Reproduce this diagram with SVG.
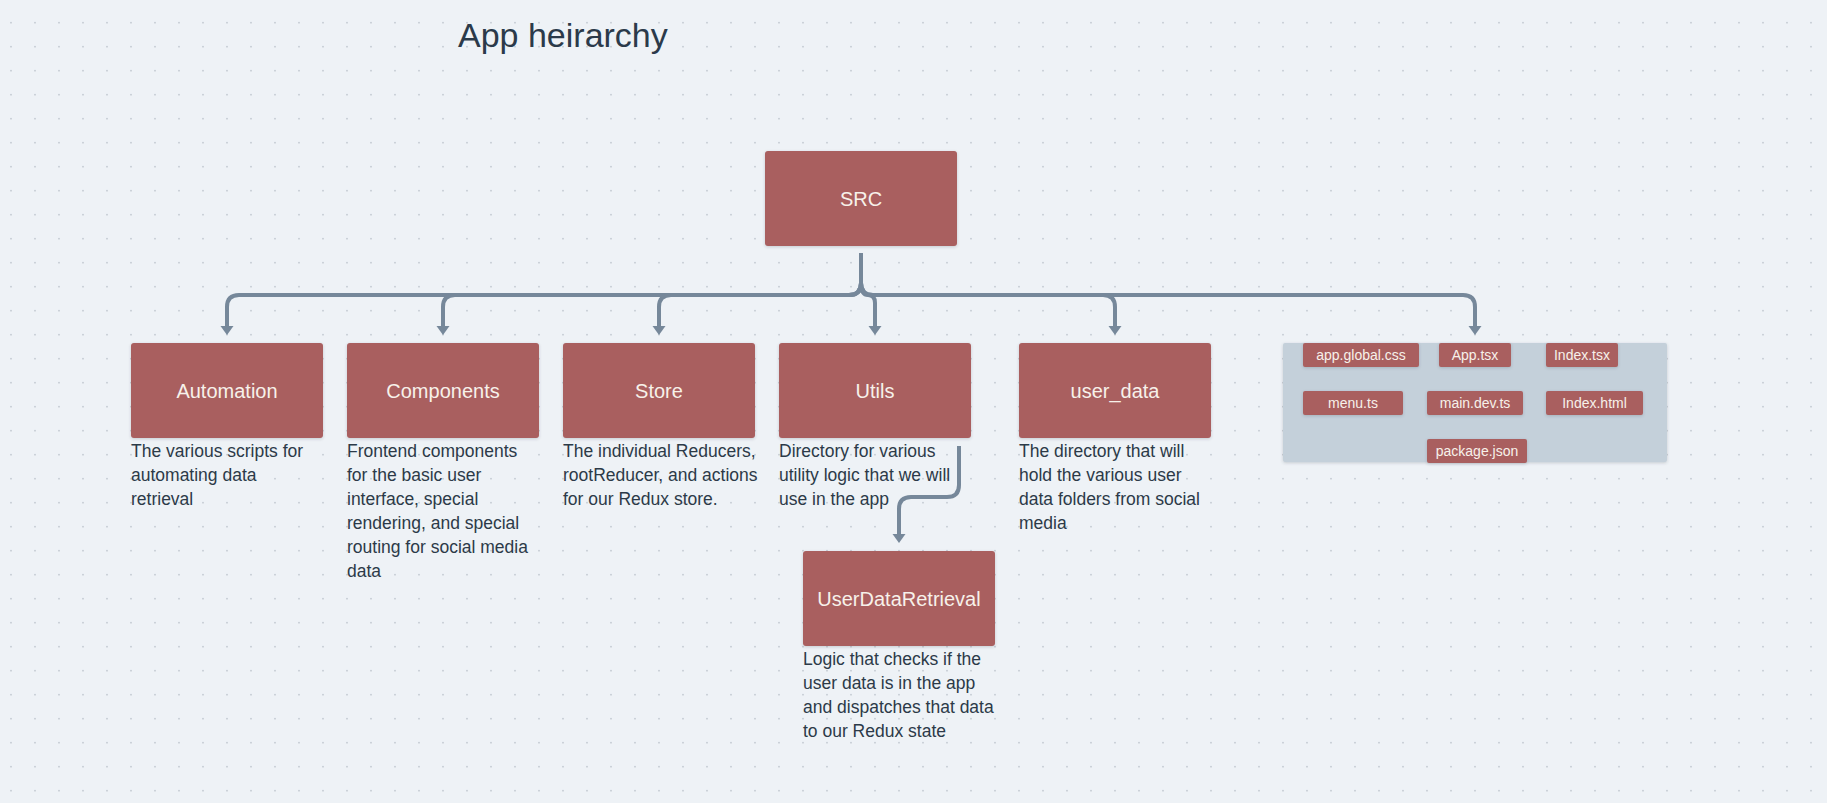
<svg xmlns="http://www.w3.org/2000/svg" width="1827" height="803" viewBox="0 0 1827 803">
<defs>
<pattern id="dots" patternUnits="userSpaceOnUse" width="24" height="24">
<circle cx="11" cy="22.7" r="0.9" fill="#c3cad2"/>
</pattern>
<filter id="sh" x="-10%" y="-10%" width="120%" height="130%">
<feDropShadow dx="0" dy="1" stdDeviation="1.5" flood-color="#34404c" flood-opacity="0.22"/>
</filter>
<marker id="arr" markerUnits="userSpaceOnUse" markerWidth="10" markerHeight="14" refX="0" refY="7" orient="auto" viewBox="0 0 10 14">
<path d="M0,0.5 L9,7 L0,13.5 Z" fill="#76889a"/>
</marker>
<style>
.node{fill:#a95f5f;filter:url(#sh);}
.lbl{font-family:"Liberation Sans",Arial,sans-serif;font-size:20px;fill:#f7f1ea;text-anchor:middle;}
.sm{font-family:"Liberation Sans",Arial,sans-serif;font-size:14px;fill:#f7f1ea;text-anchor:middle;}
.desc{font-family:"Liberation Sans",Arial,sans-serif;font-size:17.5px;fill:#2c3a48;}
.con{fill:none;stroke:#76889a;stroke-width:4;stroke-linejoin:round;}
</style>
</defs>
<rect width="1827" height="803" fill="#eef2f6"/>
<rect width="1827" height="803" fill="url(#dots)"/>
<text x="458" y="47" font-family="'Liberation Sans',Arial,sans-serif" font-size="34" fill="#2b3a4a">App heirarchy</text>

<g id="connectors">
<path class="con" d="M861,253 V283 Q861,295 849,295 H239 Q227,295 227,307 V326" marker-end="url(#arr)"/>
<path class="con" d="M861,283 Q861,295 849,295 H455 Q443,295 443,307 V326" marker-end="url(#arr)"/>
<path class="con" d="M861,283 Q861,295 849,295 H671 Q659,295 659,307 V326" marker-end="url(#arr)"/>
<path class="con" d="M861,283 Q861,295 868,295 Q875,295 875,303 V326" marker-end="url(#arr)"/>
<path class="con" d="M861,283 Q861,295 873,295 H1103 Q1115,295 1115,307 V326" marker-end="url(#arr)"/>
<path class="con" d="M861,283 Q861,295 873,295 H1463 Q1475,295 1475,307 V326" marker-end="url(#arr)"/>
<path class="con" d="M959,446 V485 Q959,497 947,497 H911 Q899,497 899,509 V534" marker-end="url(#arr)"/>
</g>

<g id="src">
<rect class="node" x="765" y="151" width="192" height="95" rx="3"/>
<text class="lbl" x="861" y="205.5">SRC</text>
</g>

<g id="automation">
<rect class="node" x="131" y="343" width="192" height="95" rx="3"/>
<text class="lbl" x="227" y="397.5">Automation</text>
<text class="desc" x="131" y="457"><tspan x="131">The various scripts for</tspan><tspan x="131" dy="24">automating data</tspan><tspan x="131" dy="24">retrieval</tspan></text>
</g>

<g id="components">
<rect class="node" x="347" y="343" width="192" height="95" rx="3"/>
<text class="lbl" x="443" y="397.5">Components</text>
<text class="desc" x="347" y="457"><tspan x="347">Frontend components</tspan><tspan x="347" dy="24">for the basic user</tspan><tspan x="347" dy="24">interface, special</tspan><tspan x="347" dy="24">rendering, and special</tspan><tspan x="347" dy="24">routing for social media</tspan><tspan x="347" dy="24">data</tspan></text>
</g>

<g id="store">
<rect class="node" x="563" y="343" width="192" height="95" rx="3"/>
<text class="lbl" x="659" y="397.5">Store</text>
<text class="desc" x="563" y="457"><tspan x="563">The individual Reducers,</tspan><tspan x="563" dy="24">rootReducer, and actions</tspan><tspan x="563" dy="24">for our Redux store.</tspan></text>
</g>

<g id="utils">
<rect class="node" x="779" y="343" width="192" height="95" rx="3"/>
<text class="lbl" x="875" y="397.5">Utils</text>
<text class="desc" x="779" y="457"><tspan x="779">Directory for various</tspan><tspan x="779" dy="24">utility logic that we will</tspan><tspan x="779" dy="24">use in the app</tspan></text>
</g>

<g id="user_data">
<rect class="node" x="1019" y="343" width="192" height="95" rx="3"/>
<text class="lbl" x="1115" y="397.5">user_data</text>
<text class="desc" x="1019" y="457"><tspan x="1019">The directory that will</tspan><tspan x="1019" dy="24">hold the various user</tspan><tspan x="1019" dy="24">data folders from social</tspan><tspan x="1019" dy="24">media</tspan></text>
</g>

<g id="userdataretrieval">
<rect class="node" x="803" y="551" width="192" height="95" rx="3"/>
<text class="lbl" x="899" y="605.5">UserDataRetrieval</text>
<text class="desc" x="803" y="665"><tspan x="803">Logic that checks if the</tspan><tspan x="803" dy="24">user data is in the app</tspan><tspan x="803" dy="24">and dispatches that data</tspan><tspan x="803" dy="24">to our Redux state</tspan></text>
</g>

<g id="root-files">
<rect x="1283" y="343" width="384" height="119" rx="2" fill="#c4d0da" filter="url(#sh)"/>
<g id="f-appglobalcss"><rect class="node" x="1303" y="343" width="116" height="24" rx="2"/><text class="sm" x="1361" y="360">app.global.css</text></g>
<g id="f-apptsx"><rect class="node" x="1439" y="343" width="72" height="24" rx="2"/><text class="sm" x="1475" y="360">App.tsx</text></g>
<g id="f-indextsx"><rect class="node" x="1546" y="343" width="72" height="24" rx="2"/><text class="sm" x="1582" y="360">Index.tsx</text></g>
<g id="f-menuts"><rect class="node" x="1303" y="391" width="100" height="24" rx="2"/><text class="sm" x="1353" y="408">menu.ts</text></g>
<g id="f-maindevts"><rect class="node" x="1427" y="391" width="96" height="24" rx="2"/><text class="sm" x="1475" y="408">main.dev.ts</text></g>
<g id="f-indexhtml"><rect class="node" x="1546" y="391" width="97" height="24" rx="2"/><text class="sm" x="1594.5" y="408">Index.html</text></g>
<g id="f-packagejson"><rect class="node" x="1427" y="439" width="100" height="24" rx="2"/><text class="sm" x="1477" y="456">package.json</text></g>
</g>
</svg>
